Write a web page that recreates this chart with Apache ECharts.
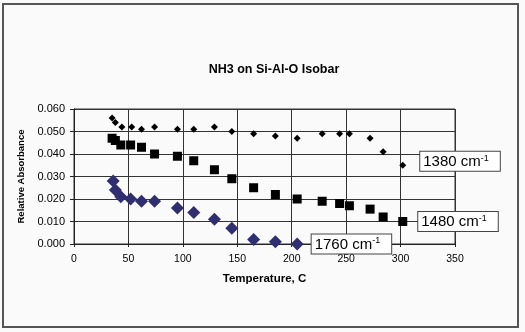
<!DOCTYPE html>
<html><head><meta charset="utf-8">
<script src="https://cdn.jsdelivr.net/npm/echarts@6/dist/echarts.min.js"></script>
<style>html,body{margin:0;padding:0;background:#fff}#c{width:525px;height:332px}</style>
</head><body><div id="c"></div>
<script>
const temps1380 = [35, 38, 44, 53, 62, 74, 95, 110, 129, 145, 165, 185, 205, 228, 244, 253, 272, 284, 302];
const abs1380   = [0.056, 0.054, 0.052, 0.052, 0.051, 0.052, 0.051, 0.051, 0.052, 0.050, 0.049, 0.048, 0.047, 0.049, 0.049, 0.049, 0.047, 0.041, 0.035];
const temps1480 = [35, 38, 43, 52, 62, 74, 95, 110, 129, 145, 165, 185, 205, 228, 244, 253, 272, 284, 302];
const abs1480   = [0.047, 0.046, 0.044, 0.044, 0.043, 0.040, 0.039, 0.037, 0.033, 0.029, 0.025, 0.022, 0.020, 0.019, 0.018, 0.017, 0.0155, 0.012, 0.010];
const temps1760 = [36, 38, 43, 52, 62, 74, 95, 110, 129, 145, 165, 185, 205];
const abs1760   = [0.028, 0.024, 0.021, 0.020, 0.019, 0.019, 0.016, 0.014, 0.011, 0.007, 0.002, 0.001, 0.000];
const xTicks = [0, 350, 50];
const yTicks = [0, 0.06, 0.01];
const names = ['1380', '1480', '1760'];

const FONT = 'Liberation Sans, Arial, sans-serif';
function pairs(xs, ys){ return xs.map((x,i)=>[x, ys[i]]); }
function tagged(xs, ys, name){
  const d = pairs(xs, ys).map(p => ({value: p}));
  const last = d[d.length-1];
  last.label = {
    show: true, position: 'right', distance: 0,
    formatter: '{a|' + name + ' cm}{s|-1}',
    backgroundColor: '#fff', borderColor: '#444', borderWidth: 1,
    padding: [2, 11, 1, 3],
    rich: {
      a: {fontSize: 15, fontFamily: FONT, color: '#000', lineHeight: 16},
      s: {fontSize: 9, fontFamily: FONT, color: '#000', verticalAlign: 'top', lineHeight: 16, padding:[0,0,6,0]}
    }
  };
  return d;
}
const s1380 = tagged(temps1380, abs1380, names[0]);
const s1480 = tagged(temps1480, abs1480, names[1]);
const s1760 = tagged(temps1760, abs1760, names[2]);

const axisLineStyle = {show: true, lineStyle: {color: '#222'}};
const chart = echarts.init(document.getElementById('c'), null, {renderer: 'canvas'});
chart.setOption({
  backgroundColor: '#fafafa',
  animation: false,
  title: {
    text: 'NH3 on Si-Al-O Isobar', left: 269, top: 58, textAlign: 'center',
    textStyle: {fontFamily: FONT, fontSize: 12.5, fontWeight: 'bold', color: '#000'}
  },
  graphic: [{
    type: 'rect', shape: {x: 3, y: 4, width: 515, height: 323},
    style: {fill: 'none', stroke: '#555', lineWidth: 2}, z: 100
  }],
  grid: {left: 74, right: 70, top: 109, bottom: 88, show: true, borderColor: '#333', borderWidth: 1, backgroundColor: '#fafafa'},
  xAxis: [{
    type: 'value', min: xTicks[0], max: xTicks[1], interval: xTicks[2], position: 'bottom',
    name: 'Temperature, C', nameLocation: 'middle', nameGap: 29,
    nameTextStyle: {fontFamily: FONT, fontSize: 11.5, fontWeight: 'bold', color: '#000'},
    axisLine: axisLineStyle,
    axisTick: {show: true, length: 3, lineStyle: {color: '#222'}},
    axisLabel: {fontFamily: FONT, fontSize: 10.5, color: '#000', margin: 10},
    splitLine: {show: true, lineStyle: {color: '#333', width: 1}}
  }, {
    type: 'value', min: xTicks[0], max: xTicks[1], interval: xTicks[2], position: 'bottom', offset: 0,
    axisLine: axisLineStyle,
    axisTick: {show: true, inside: true, length: 3, lineStyle: {color: '#222'}},
    axisLabel: {show: false}, splitLine: {show: false}
  }],
  yAxis: [{
    type: 'value', min: yTicks[0], max: yTicks[1], interval: yTicks[2], position: 'left',
    name: 'Relative Absorbance', nameLocation: 'middle', nameGap: 33,
    nameTextStyle: {fontFamily: FONT, fontSize: 9.5, fontWeight: 'bold', color: '#000'},
    axisLine: axisLineStyle,
    axisTick: {show: true, length: 4, lineStyle: {color: '#222'}},
    axisLabel: {fontFamily: FONT, fontSize: 11, color: '#000', margin: 9, formatter: v => v.toFixed(3)},
    splitLine: {show: true, lineStyle: {color: '#333', width: 1}}
  }, {
    type: 'value', min: yTicks[0], max: yTicks[1], interval: yTicks[2], position: 'left', offset: 0,
    axisLine: axisLineStyle,
    axisTick: {show: true, inside: true, length: 2, lineStyle: {color: '#222'}},
    axisLabel: {show: false}, splitLine: {show: false}
  }],
  series: [
    {type: 'scatter', name: '1380', data: s1380, symbol: 'diamond', symbolSize: 7,
     itemStyle: {color: '#000', opacity: 1}, labelLayout: {dx: 14, dy: -4}, z: 3},
    {type: 'scatter', name: '1480', data: s1480, symbol: 'rect', symbolSize: 9,
     itemStyle: {color: '#000', opacity: 1}, labelLayout: {dx: 11}, z: 3},
    {type: 'scatter', name: '1760', data: s1760, symbol: 'diamond', symbolSize: 13,
     itemStyle: {color: '#2e2e70', opacity: 1}, labelLayout: {dx: 8}, z: 3}
  ]
});
</script></body></html>
